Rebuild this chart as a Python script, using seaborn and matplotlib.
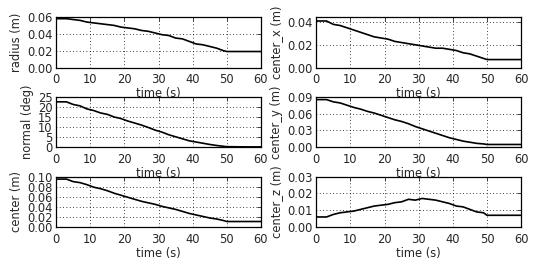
import matplotlib
matplotlib.use("Agg")
import matplotlib.pyplot as plt
import numpy as np
import pandas as pd
import seaborn as sns

time = [0, 2, 3, 5, 7, 9, 11, 13, 15, 17, 19, 21, 23, 25, 27, 29, 31, 33, 35, 37,
        39, 41, 43, 45, 47, 49, 50, 55, 60]

radius = [0.058, 0.058, 0.058, 0.057, 0.056, 0.054, 0.053, 0.052, 0.051, 0.050,
          0.048, 0.047, 0.046, 0.044, 0.043, 0.041, 0.039, 0.038, 0.035, 0.034,
          0.031, 0.028, 0.027, 0.025, 0.023, 0.020, 0.019, 0.019, 0.019]
center_x = [0.041, 0.041, 0.041, 0.038, 0.037, 0.035, 0.033, 0.031, 0.029, 0.027,
            0.026, 0.025, 0.023, 0.022, 0.021, 0.020, 0.019, 0.018, 0.017, 0.017,
            0.016, 0.015, 0.013, 0.012, 0.010, 0.008, 0.007, 0.007, 0.007]
normal = [22.5, 22.5, 22.5, 21.2, 20.5, 19.0, 18.2, 17.0, 16.3, 15.0,
          14.2, 13.0, 12.0, 11.0, 9.8, 8.5, 7.5, 6.2, 5.2, 4.2,
          3.2, 2.6, 2.0, 1.4, 0.9, 0.5, 0.3, 0.2, 0.2]
center_y = [0.085, 0.085, 0.085, 0.081, 0.079, 0.075, 0.071, 0.068, 0.064, 0.061,
            0.057, 0.053, 0.049, 0.046, 0.042, 0.037, 0.033, 0.029, 0.025, 0.021,
            0.017, 0.014, 0.011, 0.009, 0.007, 0.006, 0.005, 0.005, 0.005]
center = [0.095, 0.095, 0.095, 0.090, 0.088, 0.084, 0.079, 0.076, 0.072, 0.067,
          0.063, 0.059, 0.055, 0.051, 0.048, 0.045, 0.041, 0.038, 0.035, 0.031,
          0.027, 0.024, 0.021, 0.018, 0.016, 0.013, 0.011, 0.011, 0.011]
center_z = [0.006, 0.006, 0.006, 0.0075, 0.0085, 0.009, 0.0095, 0.0105, 0.0115, 0.0125,
            0.013, 0.0135, 0.0145, 0.015, 0.0165, 0.016, 0.017, 0.0165, 0.016, 0.015,
            0.014, 0.0125, 0.012, 0.0105, 0.009, 0.0085, 0.007, 0.007, 0.007]

df = pd.DataFrame({"time": time, "radius": radius, "center_x": center_x,
                   "normal": normal, "center_y": center_y, "center": center,
                   "center_z": center_z})

sns.set_style("white", {
    "xtick.direction": "in", "ytick.direction": "in",
    "axes.edgecolor": "black", "grid.color": "black",
})
plt.rcParams["font.family"] = ["DejaVu Sans"]
plt.rcParams["font.size"] = 8.3

# (column, ylabel, ylim, yticks, format)
panels = [
    ("radius", "radius (m)", (0, 0.06), [0.0, 0.02, 0.04, 0.06], "%.2f"),
    ("center_x", "center_x (m)", (0, 0.0445), [0.0, 0.02, 0.04], "%.2f"),
    ("normal", "normal (deg)", (0, 25), [0, 5, 10, 15, 20, 25], "%d"),
    ("center_y", "center_y (m)", (0, 0.09), [0.0, 0.03, 0.06, 0.09], "%.2f"),
    ("center", "center (m)", (0, 0.10), [0.0, 0.02, 0.04, 0.06, 0.08, 0.10], "%.2f"),
    ("center_z", "center_z (m)", (0, 0.03), [0.0, 0.01, 0.02, 0.03], "%.2f"),
]

fig, axes = plt.subplots(3, 2, figsize=(5.4, 2.7), dpi=100)
fig.subplots_adjust(left=0.104, right=0.965, top=0.937, bottom=0.159,
                    wspace=0.27, hspace=0.58)

for ax, (col, ylab, ylim, yticks, fmt) in zip(axes.flat, panels):
    sns.lineplot(data=df, x="time", y=col, ax=ax, color="black", linewidth=1.2)
    ax.set_xlim(0, 60)
    ax.set_ylim(*ylim)
    ax.set_xticks(range(0, 61, 10))
    ax.set_yticks(yticks)
    ax.yaxis.set_major_formatter(matplotlib.ticker.FormatStrFormatter(fmt))
    ax.set_xlabel("time (s)", fontsize=8.3, labelpad=1)
    ax.set_ylabel(ylab, fontsize=8.3, labelpad=3)
    ax.tick_params(axis="both", which="both", direction="in", top=True, right=True,
                   length=3, width=0.6, labelsize=8.3)
    ax.tick_params(axis="x", pad=4)
    ax.tick_params(axis="y", pad=2.5)
    ax.grid(True, linestyle=(0, (1, 3)), color="black", linewidth=0.6)
    for s in ax.spines.values():
        s.set_linewidth(0.9)

fig.savefig("out.png", dpi=100)
